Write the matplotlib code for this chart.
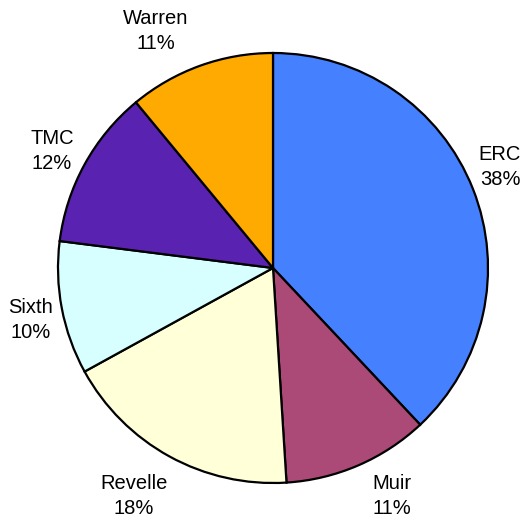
import matplotlib.pyplot as plt

plt.rcParams["font.family"] = ["Liberation Sans", "DejaVu Sans"]

colleges = ["ERC", "Muir", "Revelle", "Sixth", "TMC", "Warren"]
shares = [38, 11, 18, 10, 12, 11]
colors = ["#4580ff", "#ab4a76", "#ffffd8", "#d8ffff", "#5a22b0", "#ffaa00"]

# label centres, in the figure's pixel frame (y up)
label_pos = [(500, 356), (392, 27), (134, 27), (31, 203), (52, 372), (156, 492)]

fig = plt.figure(figsize=(5.27, 5.23), dpi=100)
ax = fig.add_axes([0, 0, 1, 1])

wedges, _ = ax.pie(
    shares,
    colors=colors,
    startangle=90,
    counterclock=False,
    center=(273, 255),
    radius=215,
    wedgeprops=dict(edgecolor="black", linewidth=1.6),
)

for name, share, (x, y) in zip(colleges, shares, label_pos):
    ax.text(x, y, f"{name}\n{share}%", ha="center", va="center",
            fontsize=14.5, linespacing=1.4)

ax.set_xlim(0, 527)
ax.set_ylim(0, 523)
ax.set_aspect("equal")
ax.axis("off")

fig.savefig("out.png", dpi=100)
